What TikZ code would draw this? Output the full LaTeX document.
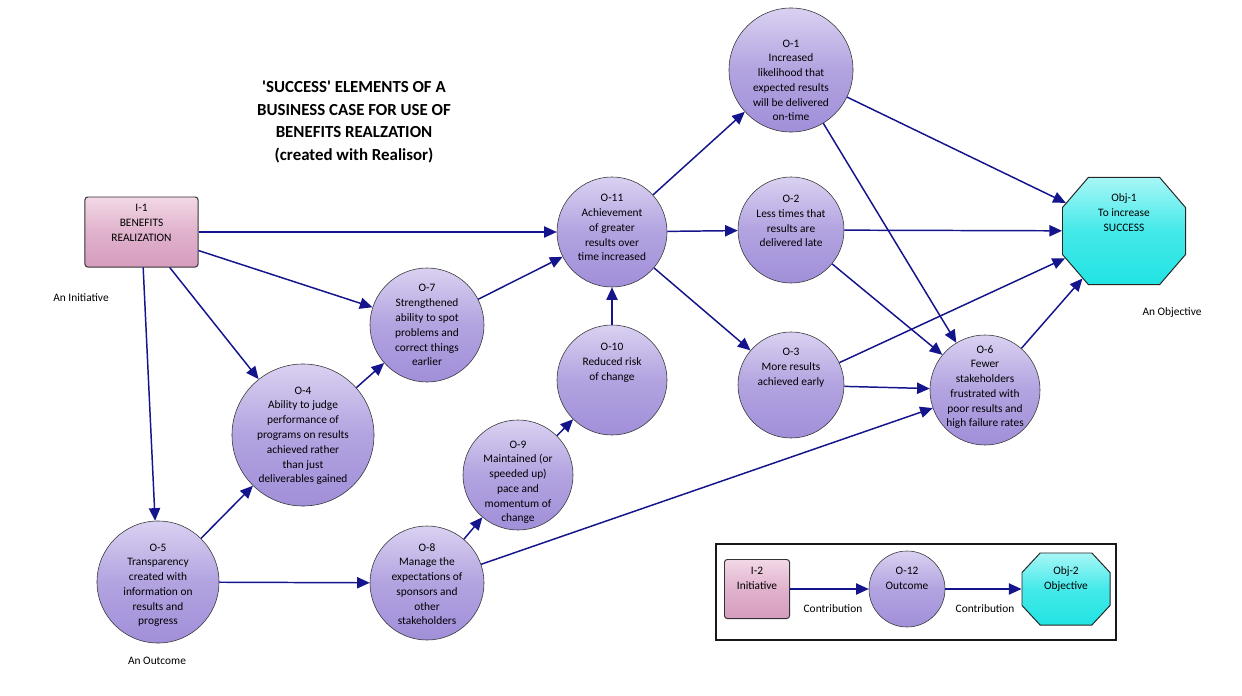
\documentclass[tikz,border=0pt]{standalone}
\usepackage{fontspec}
\setmainfont{Carlito}
\newfontfamily\titlefont{Carlito}
\usepackage{tikz}
\usetikzlibrary{arrows.meta,shapes.misc}
\definecolor{edgeblue}{HTML}{14148C}
\definecolor{ocTop}{HTML}{DAD1F1}
\definecolor{ocMid}{HTML}{B2A3E0}
\definecolor{ocBot}{HTML}{A18FD9}
\definecolor{inTop}{HTML}{F2D8E6}
\definecolor{inMid}{HTML}{E0B2CC}
\definecolor{inBot}{HTML}{D59CBE}
\definecolor{obTop}{HTML}{A8F6F6}
\definecolor{obMid}{HTML}{44E9E9}
\definecolor{obBot}{HTML}{22E3E3}

\begin{document}
\begin{tikzpicture}[x=0.025cm,y=-0.025cm,
    txt/.style={font=\fontsize{8.1}{10.5}\selectfont,align=center},
    tb/.style={text height=#1,text depth=0pt,inner ysep=-#1/2},
    oc/.style={circle,draw=black!80,thin,top color=ocTop,bottom color=ocBot,middle color=ocMid,
        txt,inner xsep=-25pt,minimum size=#1},
    init/.style={rectangle,rounded corners=2pt,draw=black!80,line width=0.7pt,top color=inTop,
        bottom color=inBot,middle color=inMid,txt,inner xsep=0pt},
    obj/.style={chamfered rectangle,draw=black!85,line width=0.7pt,top color=obTop,bottom color=obBot,
        middle color=obMid,txt,inner xsep=0pt},
    lbl/.style={txt},
    ar/.style={-{Triangle[length=9pt,width=8pt]},line width=1.05pt,draw=edgeblue}
]
\useasboundingbox (0,0) rectangle (1242,696);

% title
\node[font=\titlefont\bfseries\fontsize{12}{16.3}\selectfont,align=center] (title) at (354,122)
    {'SUCCESS' ELEMENTS OF A\\BUSINESS CASE FOR USE OF\\BENEFITS REALZATION\\(created with Realisor)};

% initiative and objective
\node[init,minimum width=2.825cm,minimum height=1.75cm,tb=12.8pt] (i1) at (141.5,232) {I-1\\BENEFITS\\REALIZATION};
\node[obj,minimum width=3.075cm,minimum height=2.675cm,chamfered rectangle angle=40.7,
    chamfered rectangle xsep=0.8875cm,chamfered rectangle ysep=0.7625cm,tb=0pt] (obj1) at (1124,231)
    {Obj-1\\To increase\\SUCCESS};

% outcomes
\node[oc=3.1cm,tb=72.3pt] (o1) at (791,70) {O-1\\Increased\\likelihood that\\expected results\\will be delivered\\on-time};
\node[oc=2.65cm,tb=24.1pt] (o2) at (791,230) {O-2\\Less times that\\results are\\delivered late};
\node[oc=2.65cm,tb=0pt] (o3) at (791,385) {O-3\\More results\\achieved early};
\node[oc=3.55cm,tb=68pt] (o4) at (303,435) {O-4\\Ability to judge\\performance of\\programs on results\\achieved rather\\than just\\deliverables gained};
\node[oc=3.05cm,tb=61pt] (o5) at (158,582) {O-5\\Transparency\\created with\\information on\\results and\\progress};
\node[oc=2.75cm,tb=52.5pt] (o6) at (985,390) {O-6\\Fewer\\stakeholders\\frustrated with\\poor results and\\high failure rates};
\node[oc=2.85cm,tb=58pt] (o7) at (427,325) {O-7\\Strengthened\\ability to spot\\problems and\\correct things\\earlier};
\node[oc=2.85cm,tb=59.6pt] (o8) at (427,583) {O-8\\Manage the\\expectations of\\sponsors and\\other\\stakeholders};
\node[oc=2.75cm,tb=66.6pt] (o9) at (518,475) {O-9\\Maintained (or\\speeded up)\\pace and\\momentum of\\change};
\node[oc=2.75cm,tb=0pt] (o10) at (612,380) {O-10\\Reduced risk\\of change};
\node[oc=2.75cm,tb=41.2pt] (o11) at (612,232) {O-11\\Achievement\\of greater\\results over\\time increased};

% type labels
\node[lbl] (lbini) at (81,298) {An Initiative};
\node[lbl] (lbobj) at (1172,313) {An Objective};
\node[lbl] (lbout) at (157,661) {An Outcome};

% contributions
\draw[ar] (i1) -- (o11);
\draw[ar] (i1) -- (o7);
\draw[ar] (i1) -- (o4);
\draw[ar] (i1) -- (o5);
\draw[ar] (o5) -- (o4);
\draw[ar] (o5) -- (o8);
\draw[ar] (o4) -- (o7);
\draw[ar] (o7) -- (o11);
\draw[ar] (o8) -- (o9);
\draw[ar] (o8) -- (o6);
\draw[ar] (o9) -- (o10);
\draw[ar] (o10) -- (o11);
\draw[ar] (o11) -- (o1);
\draw[ar] (o11) -- (o2);
\draw[ar] (o11) -- (o3);
\draw[ar] (o1) -- (obj1);
\draw[ar] (o1) -- (o6);
\draw[ar] (o2) -- (obj1);
\draw[ar] (o2) -- (o6);
\draw[ar] (o3) -- (obj1);
\draw[ar] (o3) -- (o6);
\draw[ar] (o6) -- (obj1);

% legend
\draw[line width=1.2pt,draw=black!90] (716,544) rectangle (1116,640);
\node[init,minimum width=1.625cm,minimum height=1.475cm,tb=0pt] (i2) at (757,589) {I-2\\Initiative};
\node[oc=1.9cm,tb=0pt] (o12) at (907,589) {O-12\\Outcome};
\node[obj,minimum width=2.2cm,minimum height=1.8cm,chamfered rectangle angle=42.9,
    chamfered rectangle xsep=0.525cm,chamfered rectangle ysep=0.4875cm,tb=0pt] (obj2) at (1066,589)
    {Obj-2\\Objective};
\draw[ar] (i2) -- (o12);
\draw[ar] (o12) -- (obj2);
\node[lbl] (lbc1) at (833,609) {Contribution};
\node[lbl] (lbc2) at (985,609) {Contribution};
\end{tikzpicture}
\end{document}
